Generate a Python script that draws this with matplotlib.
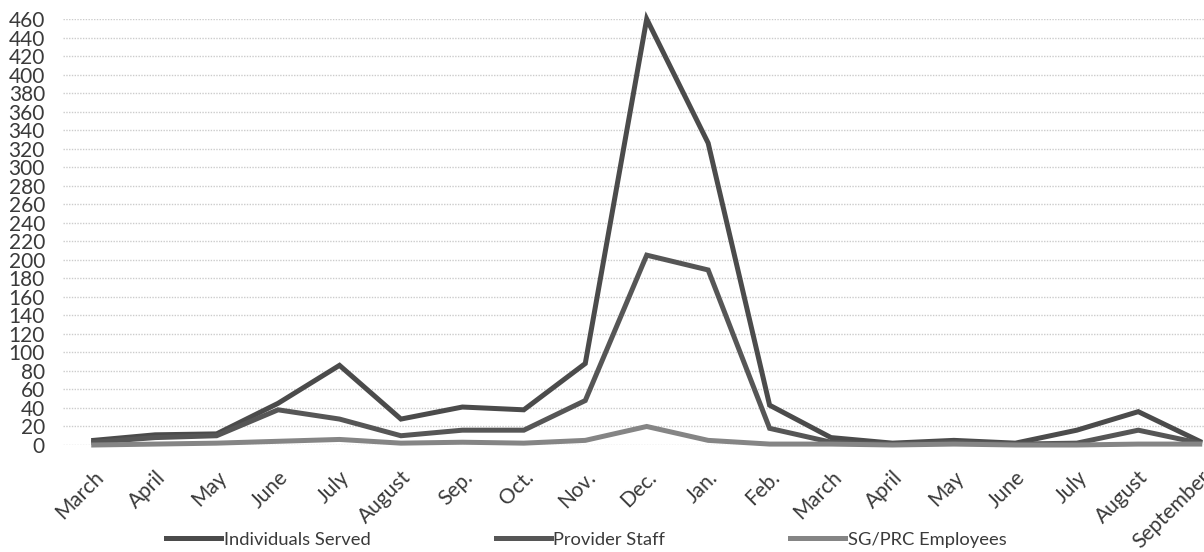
import matplotlib.pyplot as plt
import numpy as np

plt.rcParams['font.family'] = ['Lato', 'DejaVu Sans']

months = ['March', 'April', 'May', 'June', 'July', 'August', 'Sep.', 'Oct.', 'Nov.',
          'Dec.', 'Jan.', 'Feb.', 'March', 'April', 'May', 'June', 'July', 'August',
          'September']

individuals = [5, 11, 12, 45, 86, 28, 41, 38, 88, 460, 326, 43, 8, 2, 5, 2, 16, 36, 4]
provider = [3, 8, 10, 38, 28, 10, 16, 16, 48, 205, 189, 18, 3, 1, 3, 1, 2, 16, 2]
sg_prc = [0, 1, 2, 4, 6, 2, 3, 2, 5, 20, 5, 1, 1, 0, 1, 0, 0, 1, 1]

fig = plt.figure(figsize=(12.04, 5.52), dpi=100)
ax = fig.add_axes([63 / 1204, 107 / 552, 1 - 63 / 1204, 426 / 552])

x = np.arange(len(months))
ax.plot(x, individuals, color='#4b4b4b', lw=3.6, label='Individuals Served', clip_on=False,
        solid_joinstyle='miter')
ax.plot(x, provider, color='#565656', lw=3.6, label='Provider Staff', clip_on=False,
        solid_joinstyle='miter')
ax.plot(x, sg_prc, color='#858585', lw=3.6, label='SG/PRC Employees', clip_on=False,
        solid_joinstyle='miter')

ax.set_xlim(-0.5, 18.07)
ax.set_ylim(0, 460)
ax.set_yticks(np.arange(0, 461, 20))
ax.set_yticklabels([str(v) for v in range(0, 461, 20)])
ax.tick_params(axis='y', length=0, pad=13, labelsize=15, labelcolor='#3a3a3a')
ax.set_xticks(x)
ax.set_xticklabels(months, rotation=45, ha='right', rotation_mode='anchor',
                   fontsize=15, color='#3a3a3a')
ax.tick_params(axis='x', length=0, pad=16)
ax.grid(axis='y', color='#cccccc', lw=1, ls=(0, (1, 1)))
ax.set_axisbelow(True)
for s in ax.spines.values():
    s.set_visible(False)

fig.legend(loc='center', bbox_to_anchor=(0.487, 0.022), ncol=3, frameon=False,
           fontsize=13.2, handlelength=3.0, handletextpad=0.15, columnspacing=6.8,
           labelcolor='#3a3a3a')

fig.savefig('out.png', dpi=100)
